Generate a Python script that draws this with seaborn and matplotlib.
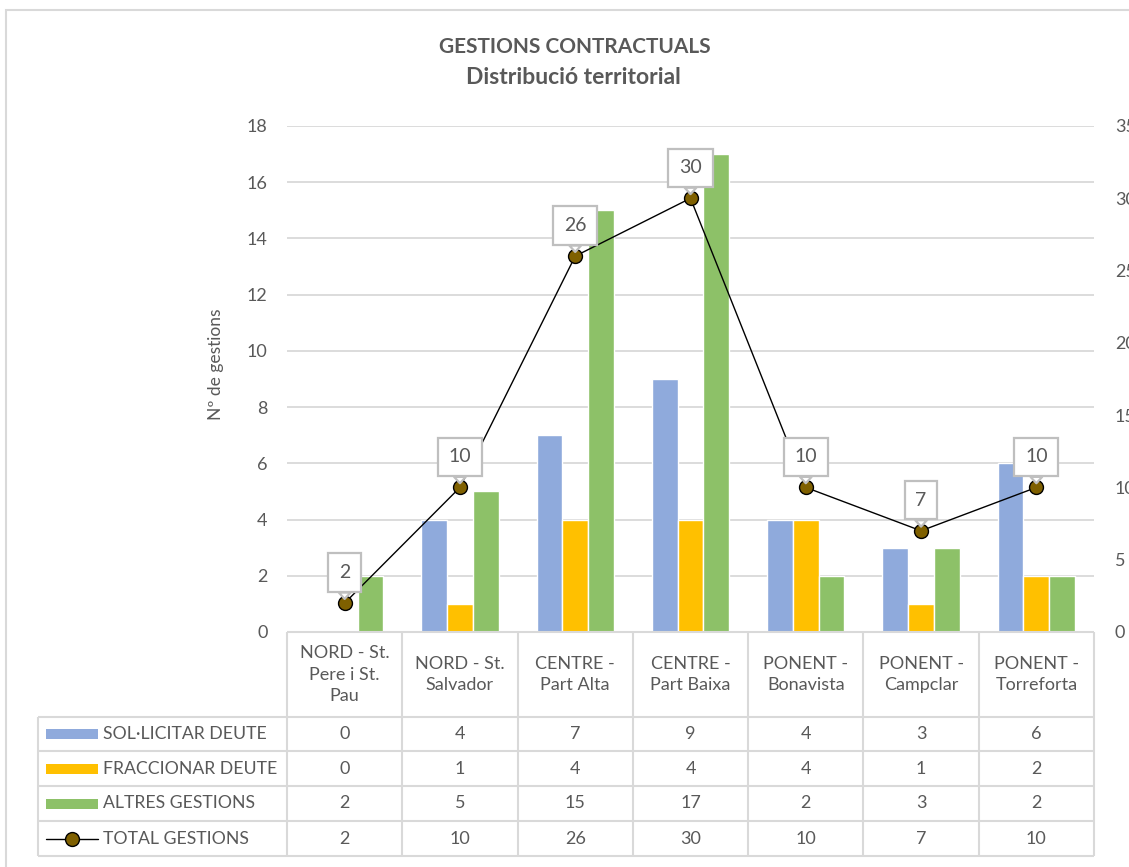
import numpy as np
import pandas as pd
import matplotlib.pyplot as plt
import seaborn as sns
from matplotlib.patches import Rectangle
from matplotlib.lines import Line2D

# ---- data ----
categories = ["NORD - St. Pere i St. Pau", "NORD - St. Salvador", "CENTRE - Part Alta",
              "CENTRE - Part Baixa", "PONENT - Bonavista", "PONENT - Campclar",
              "PONENT - Torreforta"]
header_labels = ["NORD - St.\nPere i St.\nPau", "NORD - St.\nSalvador", "CENTRE -\nPart Alta",
                 "CENTRE -\nPart Baixa", "PONENT -\nBonavista", "PONENT -\nCampclar",
                 "PONENT -\nTorreforta"]
series = ["SOL·LICITAR DEUTE", "FRACCIONAR DEUTE", "ALTRES GESTIONS"]
solicitar = [0, 4, 7, 9, 4, 3, 6]
fraccionar = [0, 1, 4, 4, 4, 1, 2]
altres = [2, 5, 15, 17, 2, 3, 2]
total_label = "TOTAL GESTIONS"
total = [2, 10, 26, 30, 10, 7, 10]

colors = ["#8FAADC", "#FFC000", "#8DC168"]
marker_color = "#7F6000"
text_col = "#595959"
grid_col = "#D9D9D9"

df = pd.DataFrame({
    "zona": categories * 3,
    "serie": np.repeat(series, len(categories)),
    "valor": solicitar + fraccionar + altres,
})

sns.set_style("white")
plt.rcParams['font.family'] = ['Lato', 'DejaVu Sans']

W, H = 1129, 867
fig = plt.figure(figsize=(W / 100, H / 100), dpi=100)

# plot area in pixels
x0, x1, ytop, ybot = 287, 1094, 126, 632
ax = fig.add_axes([x0 / W, 1 - ybot / H, (x1 - x0) / W, (ybot - ytop) / H])

sns.barplot(data=df, x="zona", y="valor", hue="serie", hue_order=series,
            order=categories, palette=colors, width=0.67, gap=0, saturation=1,
            legend=False, ax=ax)
ax.set_xlim(-0.5, len(categories) - 0.5)
ax.set_ylim(0, 18)
ax.set_yticks(range(0, 19, 2))
ax.yaxis.grid(True, color=grid_col, lw=1.3)
ax.set_axisbelow(True)
ax.set_xticks([])
ax.set_xlabel("")
ax.set_ylabel("Nº de gestions", fontsize=12.5, color=text_col)
ax.yaxis.set_label_coords(-0.078, 0.53)
ax.tick_params(axis="y", length=0, pad=14, labelsize=13, labelcolor=text_col)
for s in ax.spines.values():
    s.set_visible(False)

# total line on secondary axis
ax2 = ax.twinx()
pos = np.arange(len(categories))
sns.lineplot(x=pos, y=total, ax=ax2, color="black", lw=1, marker="o", markersize=10,
             markerfacecolor=marker_color, markeredgecolor="black", markeredgewidth=1)
ax2.set_xlim(-0.5, len(categories) - 0.5)
ax2.set_ylim(0, 35)
ax2.set_yticks(range(0, 36, 5))
ax2.tick_params(axis="y", length=0, pad=15, labelsize=13, labelcolor=text_col)
for s in ax2.spines.values():
    s.set_visible(False)

for i, v in enumerate(total):
    ax2.annotate(str(v), xy=(i, v), xytext=(0, 22), textcoords="offset points",
                 ha="center", va="center", fontsize=14, color=text_col,
                 bbox=dict(boxstyle="square,pad=0.55", fc="white", ec="#BFBFBF", lw=1.6),
                 arrowprops=dict(arrowstyle="wedge,tail_width=0.6,shrink_factor=0.5",
                                 fc="white", ec="#BFBFBF", lw=1.6,
                                 shrinkA=0, shrinkB=3))

# titles
fig.text(575 / W, 1 - 47 / H, "GESTIONS CONTRACTUALS", ha="center", va="center",
         fontsize=15, fontweight="bold", color=text_col)
fig.text(573 / W, 1 - 78 / H, "Distribució territorial", ha="center", va="center",
         fontsize=16.5, fontweight="bold", color=text_col)

# ---- data table ----
tl, tb = 38, 856
cw = (x1 - x0) / len(categories)
tax = fig.add_axes([tl / W, 1 - tb / H, (x1 - tl) / W, (tb - ybot) / H])
left_lim = -0.5 - (x0 - tl) / cw
tax.set_xlim(left_lim, len(categories) - 0.5)
tax.set_ylim(tb - ybot, 0)
tax.axis("off")

rows = [0, 85, 119, 154, 189, 224]
n = len(categories)
lkw = dict(color=grid_col, lw=1.5, clip_on=False, solid_capstyle="butt")
tax.plot([-0.5, n - 0.5], [rows[0], rows[0]], **lkw)
for r in rows[1:]:
    tax.plot([left_lim, n - 0.5], [r, r], **lkw)
for k in range(n + 1):
    tax.plot([k - 0.5, k - 0.5], [rows[0], rows[-1]], **lkw)
tax.plot([left_lim, left_lim], [rows[1], rows[-1]], **lkw)

for i, lab in enumerate(header_labels):
    tax.text(i, (rows[0] + rows[1]) / 2, lab, ha="center", va="center",
             fontsize=13, color=text_col, linespacing=1.4)

row_vals = [solicitar, fraccionar, altres, total]
row_names = series + [total_label]
key_x0 = left_lim + 8 / cw
key_x1 = left_lim + 60 / cw
for r, (name, vals) in enumerate(zip(row_names, row_vals)):
    yc = (rows[r + 1] + rows[r + 2]) / 2
    for i, v in enumerate(vals):
        tax.text(i, yc, str(v), ha="center", va="center", fontsize=13, color=text_col)
    tax.text(key_x1 + 5 / cw, yc, name, ha="left", va="center", fontsize=12.7, color=text_col)
    if r < 3:
        tax.add_patch(Rectangle((key_x0, yc - 5), key_x1 - key_x0, 10,
                                fc=colors[r], ec="none", clip_on=False))
    else:
        tax.add_line(Line2D([key_x0, key_x1], [yc, yc], color="black", lw=1, clip_on=False))
        tax.plot([(key_x0 + key_x1) / 2], [yc], marker="o", markersize=10,
                 mfc=marker_color, mec="black", mew=1, clip_on=False)

# chart frame
fig.add_artist(Rectangle((6 / W, -0.02), 1.05, 1 - 10 / H + 0.02, transform=fig.transFigure,
                         fill=False, ec=grid_col, lw=1.5))

fig.savefig("out.png", dpi=100)
